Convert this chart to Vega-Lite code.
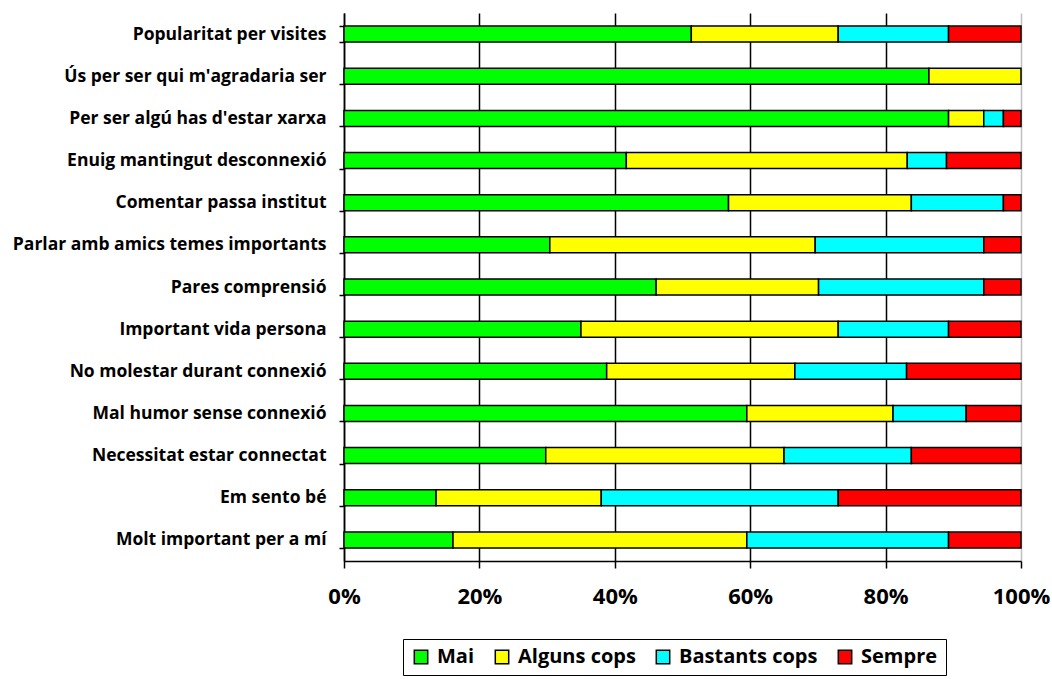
{
  "$schema": "https://vega.github.io/schema/vega-lite/v6.json",
  "autosize": {"type": "none"},
  "padding": {"left": 344, "top": 13, "right": 31, "bottom": 118},
  "width": 677,
  "height": 548,
  "background": "white",
  "data": {
    "values": [
      {"item": "Popularitat per visites", "resposta": "Mai", "ordre": 1, "valor": 51.3},
      {"item": "Popularitat per visites", "resposta": "Alguns cops", "ordre": 2, "valor": 21.7},
      {"item": "Popularitat per visites", "resposta": "Bastants cops", "ordre": 3, "valor": 16.3},
      {"item": "Popularitat per visites", "resposta": "Sempre", "ordre": 4, "valor": 10.7},
      {"item": "Ús per ser qui m'agradaria ser", "resposta": "Mai", "ordre": 1, "valor": 86.4},
      {"item": "Ús per ser qui m'agradaria ser", "resposta": "Alguns cops", "ordre": 2, "valor": 13.6},
      {"item": "Per ser algú has d'estar xarxa", "resposta": "Mai", "ordre": 1, "valor": 89.3},
      {"item": "Per ser algú has d'estar xarxa", "resposta": "Alguns cops", "ordre": 2, "valor": 5.2},
      {"item": "Per ser algú has d'estar xarxa", "resposta": "Bastants cops", "ordre": 3, "valor": 2.9},
      {"item": "Per ser algú has d'estar xarxa", "resposta": "Sempre", "ordre": 4, "valor": 2.6},
      {"item": "Enuig mantingut desconnexió", "resposta": "Mai", "ordre": 1, "valor": 41.7},
      {"item": "Enuig mantingut desconnexió", "resposta": "Alguns cops", "ordre": 2, "valor": 41.5},
      {"item": "Enuig mantingut desconnexió", "resposta": "Bastants cops", "ordre": 3, "valor": 5.8},
      {"item": "Enuig mantingut desconnexió", "resposta": "Sempre", "ordre": 4, "valor": 11.0},
      {"item": "Comentar passa institut", "resposta": "Mai", "ordre": 1, "valor": 56.8},
      {"item": "Comentar passa institut", "resposta": "Alguns cops", "ordre": 2, "valor": 27.0},
      {"item": "Comentar passa institut", "resposta": "Bastants cops", "ordre": 3, "valor": 13.6},
      {"item": "Comentar passa institut", "resposta": "Sempre", "ordre": 4, "valor": 2.6},
      {"item": "Parlar amb amics temes importants", "resposta": "Mai", "ordre": 1, "valor": 30.4},
      {"item": "Parlar amb amics temes importants", "resposta": "Alguns cops", "ordre": 2, "valor": 39.2},
      {"item": "Parlar amb amics temes importants", "resposta": "Bastants cops", "ordre": 3, "valor": 24.9},
      {"item": "Parlar amb amics temes importants", "resposta": "Sempre", "ordre": 4, "valor": 5.5},
      {"item": "Pares comprensió", "resposta": "Mai", "ordre": 1, "valor": 46.1},
      {"item": "Pares comprensió", "resposta": "Alguns cops", "ordre": 2, "valor": 24.0},
      {"item": "Pares comprensió", "resposta": "Bastants cops", "ordre": 3, "valor": 24.4},
      {"item": "Pares comprensió", "resposta": "Sempre", "ordre": 4, "valor": 5.5},
      {"item": "Important vida persona", "resposta": "Mai", "ordre": 1, "valor": 35.0},
      {"item": "Important vida persona", "resposta": "Alguns cops", "ordre": 2, "valor": 38.0},
      {"item": "Important vida persona", "resposta": "Bastants cops", "ordre": 3, "valor": 16.3},
      {"item": "Important vida persona", "resposta": "Sempre", "ordre": 4, "valor": 10.7},
      {"item": "No molestar durant connexió ", "resposta": "Mai", "ordre": 1, "valor": 38.8},
      {"item": "No molestar durant connexió ", "resposta": "Alguns cops", "ordre": 2, "valor": 27.8},
      {"item": "No molestar durant connexió ", "resposta": "Bastants cops", "ordre": 3, "valor": 16.5},
      {"item": "No molestar durant connexió ", "resposta": "Sempre", "ordre": 4, "valor": 16.9},
      {"item": "Mal humor sense connexió", "resposta": "Mai", "ordre": 1, "valor": 59.5},
      {"item": "Mal humor sense connexió", "resposta": "Alguns cops", "ordre": 2, "valor": 21.6},
      {"item": "Mal humor sense connexió", "resposta": "Bastants cops", "ordre": 3, "valor": 10.8},
      {"item": "Mal humor sense connexió", "resposta": "Sempre", "ordre": 4, "valor": 8.1},
      {"item": "Necessitat estar connectat", "resposta": "Mai", "ordre": 1, "valor": 29.8},
      {"item": "Necessitat estar connectat", "resposta": "Alguns cops", "ordre": 2, "valor": 35.2},
      {"item": "Necessitat estar connectat", "resposta": "Bastants cops", "ordre": 3, "valor": 18.8},
      {"item": "Necessitat estar connectat", "resposta": "Sempre", "ordre": 4, "valor": 16.2},
      {"item": "Em sento bé", "resposta": "Mai", "ordre": 1, "valor": 13.6},
      {"item": "Em sento bé", "resposta": "Alguns cops", "ordre": 2, "valor": 24.4},
      {"item": "Em sento bé", "resposta": "Bastants cops", "ordre": 3, "valor": 35.0},
      {"item": "Em sento bé", "resposta": "Sempre", "ordre": 4, "valor": 27.0},
      {"item": "Molt important per a mí", "resposta": "Mai", "ordre": 1, "valor": 16.1},
      {"item": "Molt important per a mí", "resposta": "Alguns cops", "ordre": 2, "valor": 43.4},
      {"item": "Molt important per a mí", "resposta": "Bastants cops", "ordre": 3, "valor": 29.8},
      {"item": "Molt important per a mí", "resposta": "Sempre", "ordre": 4, "valor": 10.7}
    ]
  },
  "mark": {"type": "bar", "stroke": "black", "strokeWidth": 1.5},
  "encoding": {
    "y": {
      "field": "item",
      "type": "nominal",
      "sort": null,
      "scale": {"paddingInner": 0.62, "paddingOuter": 0.31},
      "axis": {
        "title": null,
        "domainColor": "black",
        "domainWidth": 1.5,
        "tickBand": "extent",
        "tickColor": "black",
        "tickWidth": 1.5,
        "tickSize": 5,
        "labelFont": "Open Sans",
        "labelFontWeight": "bold",
        "labelFontSize": 17.5,
        "labelColor": "black",
        "labelPadding": 13,
        "labelLimit": 400,
        "grid": false
      }
    },
    "x": {
      "field": "valor",
      "type": "quantitative",
      "stack": "normalize",
      "scale": {"domain": [0, 1]},
      "axis": {
        "title": null,
        "format": ".0%",
        "values": [0, 0.2, 0.4, 0.6, 0.8, 1],
        "labelFlush": false,
        "domainColor": "black",
        "domainWidth": 1.5,
        "tickColor": "black",
        "tickWidth": 1.5,
        "tickSize": 7,
        "labelFont": "Open Sans",
        "labelFontWeight": "bold",
        "labelFontSize": 22,
        "labelColor": "black",
        "labelPadding": 18,
        "grid": true,
        "gridColor": {"condition": {"test": "datum.value >= 1", "value": "#c0c0c0"}, "value": "black"},
        "gridWidth": 1.5
      }
    },
    "color": {
      "field": "resposta",
      "type": "nominal",
      "sort": ["Mai", "Alguns cops", "Bastants cops", "Sempre"],
      "scale": {
        "domain": ["Mai", "Alguns cops", "Bastants cops", "Sempre"],
        "range": ["#00ff00", "#ffff00", "#00ffff", "#ff0000"]
      },
      "legend": {
        "title": null,
        "orient": "none",
        "direction": "horizontal",
        "legendX": 59,
        "legendY": 626,
        "strokeColor": "black",
        "padding": 8,
        "symbolType": "square",
        "symbolSize": 180,
        "symbolStrokeColor": "black",
        "symbolStrokeWidth": 1.5,
        "labelFont": "Open Sans",
        "labelFontWeight": "bold",
        "labelFontSize": 20,
        "labelColor": "black",
        "columnPadding": 17,
        "labelOffset": 6
      }
    },
    "order": {"field": "ordre", "type": "quantitative"}
  },
  "config": {"view": {"stroke": null}}
}
